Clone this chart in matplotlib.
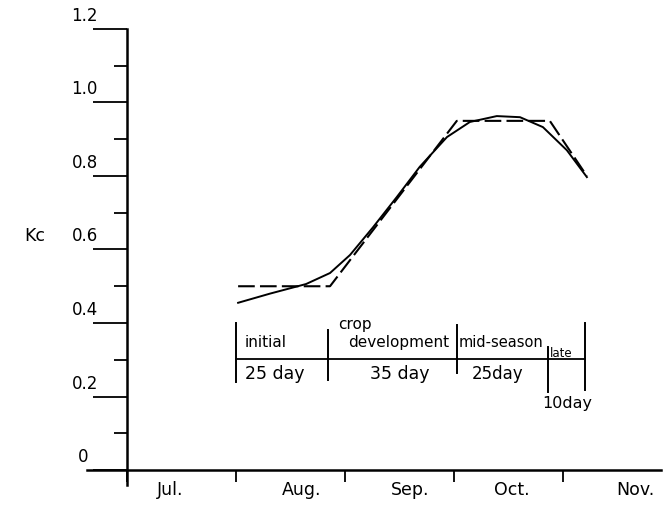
import matplotlib
matplotlib.use("Agg")
import matplotlib.pyplot as plt

# x values are days counted from 1 July
months = ['Jul.', 'Aug.', 'Sep.', 'Oct.', 'Nov.']
month_ticks = [0, 30, 60, 90, 120]
month_label_x = [12, 48, 78, 106, 140]

kc_ticks = [0, 0.2, 0.4, 0.6, 0.8, 1.0, 1.2]
kc_tick_labels = ['0', '0.2', '0.4', '0.6', '0.8', '1.0', '1.2']
kc_minor = [0.1, 0.3, 0.5, 0.7, 0.9, 1.1]

# smooth Kc curve
curve_day = [30.6, 39.4, 49.3, 55.9, 61.4, 67.7, 74.3, 80.6, 88.1, 94.4,
             101.8, 108.2, 114.5, 121.1, 126.6]
curve_kc = [0.455, 0.48, 0.506, 0.536, 0.585, 0.66, 0.743, 0.825, 0.906,
            0.947, 0.963, 0.96, 0.933, 0.87, 0.797]

# stage-wise (FAO type) Kc line
stage_day = [30.6, 55.9, 90.8, 116.4, 126.6]
stage_kc = [0.5, 0.5, 0.95, 0.95, 0.80]

# growth stage table
stage_bounds = [30.0, 55.3, 90.8, 115.9, 126.1]
stage_names = ['initial', 'crop\ndevelopment', 'mid-season', 'late']
stage_days = ['25 day', '35 day', '25day', '10day']

fig = plt.figure(figsize=(6.68, 5.09), dpi=100)
ax = fig.add_axes([0.1302, 0.0405, 0.8593, 0.917])
ax.set_xlim(-11, 147)
ax.set_ylim(-0.05, 1.22)

ax.plot(curve_day, curve_kc, color='black', lw=1.4)
ax.plot(stage_day, stage_kc, color='black', lw=1.5, dashes=(8, 2.5))

# table of stages
ax.plot([stage_bounds[0], stage_bounds[-1]], [0.302, 0.302], color='black', lw=1.3)
v_top = [0.40, 0.381, 0.395, 0.335, 0.40]
v_bot = [0.239, 0.245, 0.264, 0.212, 0.218]
for b, t, lo in zip(stage_bounds, v_top, v_bot):
    ax.plot([b, b], [lo, t], color='black', lw=1.4)

ax.text(32.5, 0.346, stage_names[0], fontsize=11, va='center', ha='left')
ax.text(58.1, 0.395, 'crop', fontsize=11, va='center', ha='left')
ax.text(60.8, 0.346, 'development', fontsize=11, va='center', ha='left')
ax.text(91.4, 0.348, stage_names[2], fontsize=10.5, va='center', ha='left')
ax.text(116.4, 0.318, stage_names[3], fontsize=8.5, va='center', ha='left')
ax.text(40.7, 0.261, stage_days[0], fontsize=12.5, va='center', ha='center')
ax.text(75.1, 0.261, stage_days[1], fontsize=12.5, va='center', ha='center')
ax.text(102.1, 0.261, stage_days[2], fontsize=12, va='center', ha='center')
ax.text(121.1, 0.182, stage_days[3], fontsize=11.5, va='center', ha='center')

# axes
for s in ['top', 'right']:
    ax.spines[s].set_visible(False)
ax.spines['left'].set_position(('data', 0))
ax.spines['left'].set_bounds(-0.041, 1.2)
ax.spines['left'].set_linewidth(1.8)
ax.spines['bottom'].set_position(('data', 0))
ax.spines['bottom'].set_linewidth(1.8)

ax.set_yticks(kc_ticks)
ax.set_yticklabels([])
ax.set_yticks(kc_minor, minor=True)
ax.tick_params(axis='y', which='major', direction='out', length=24.5, width=1.3)
ax.tick_params(axis='y', which='minor', direction='out', length=9.4, width=1.3)
for v, lbl in zip(kc_ticks, kc_tick_labels):
    dx = -39 if lbl == '0' else -29
    ax.annotate(lbl, xy=(0, v), xytext=(dx, 13), textcoords='offset pixels',
                ha='right', va='center', fontsize=12)
ax.annotate('Kc', xy=(0, 0.6), xytext=(-82, 13), textcoords='offset pixels',
            ha='right', va='center', fontsize=12.5)

ax.set_xticks(month_ticks)
ax.set_xticklabels([])
ax.tick_params(axis='x', which='major', direction='out', length=8.6, width=1.3)
ax.set_xticks(month_label_x, minor=True)
ax.set_xticklabels(months, minor=True, fontsize=12.5)
ax.tick_params(axis='x', which='minor', length=0, pad=8)

fig.savefig('out.png', dpi=100)
